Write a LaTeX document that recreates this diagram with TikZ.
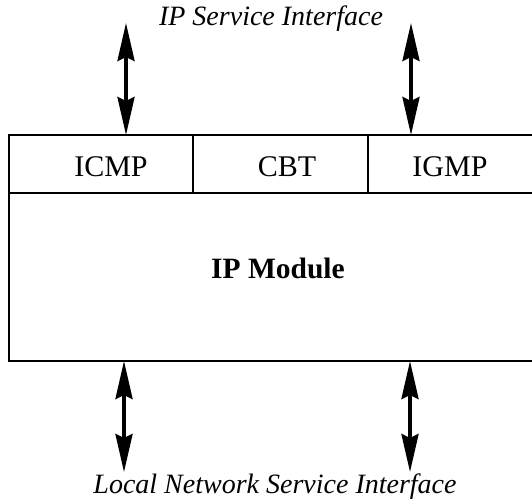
\documentclass[tikz,border=0pt]{standalone}
\usepackage{fontspec}
\setmainfont{Liberation Serif}
\usetikzlibrary{arrows.meta}
\begin{document}
\begin{tikzpicture}[x=1pt,y=-1pt,
  boxline/.style={line width=2.4pt},
  dblarrow/.style={line width=3.6pt,{Stealth[length=38pt,width=17pt,inset=4pt]}-{Stealth[length=38pt,width=17pt,inset=4pt]}},
  celltext/.style={font=\fontsize{30}{35}\selectfont},
  iface/.style={font=\fontsize{28}{33}\selectfont\itshape}]
\useasboundingbox (0,0) rectangle (532,502);
% box lines (right side open)
\draw[boxline] (532,135) -- (9,135) -- (9,361) -- (532,361);
\draw[boxline] (9,193) -- (532,193);
\draw[boxline] (193,135) -- (193,193);
\draw[boxline] (368,135) -- (368,193);
% texts
\node[celltext] (icmp) at (111,167) {ICMP};
\node[celltext] (cbt) at (287,167) {CBT};
\node[celltext] (igmp) at (450,167) {IGMP};
\node[font=\fontsize{29.5}{35}\selectfont\bfseries] (ipmod) at (278,268) {IP Module};
\node[iface] (ipsi) at (271,19) {IP Service Interface};
\node[iface] (lnsi) at (275,487) {Local Network Service Interface};
% arrow end points
\coordinate (t1a) at (126,23);  \coordinate (t1b) at (126,135);
\coordinate (t2a) at (411,23);  \coordinate (t2b) at (411,135);
\coordinate (b1a) at (124,361); \coordinate (b1b) at (124,472);
\coordinate (b2a) at (410,361); \coordinate (b2b) at (410,472);
\draw[dblarrow] (t1a) -- (t1b);
\draw[dblarrow] (t2a) -- (t2b);
\draw[dblarrow] (b1a) -- (b1b);
\draw[dblarrow] (b2a) -- (b2b);
\end{tikzpicture}
\end{document}
